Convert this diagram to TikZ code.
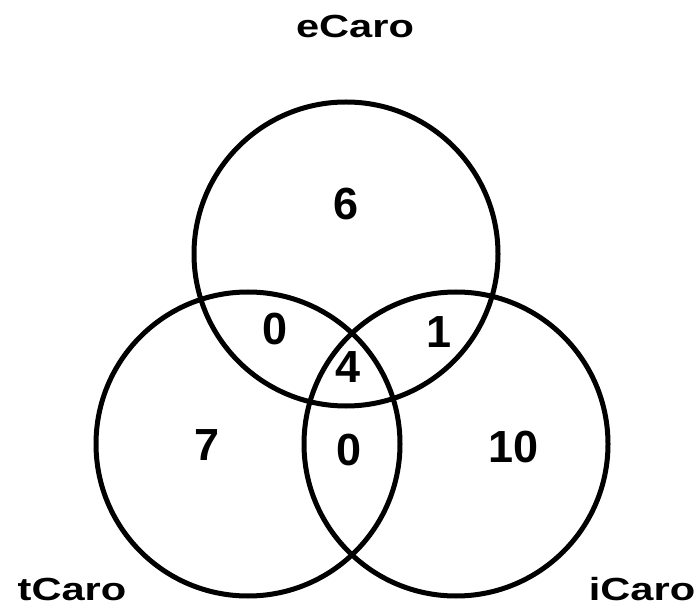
\documentclass[tikz,border=0pt]{standalone}
\usepackage{fontspec}
\setmainfont{Liberation Sans}
\begin{document}
\begin{tikzpicture}[x=1pt,y=-1pt,
  setcircle/.style={draw=black,line width=5pt,circle,minimum size=304pt,inner sep=0pt},
  countlbl/.style={anchor=base,inner sep=0pt,font=\fontsize{45}{45}\selectfont\bfseries},
  setlbl/.style={anchor=base,inner sep=0pt,font=\fontsize{32}{32}\selectfont\bfseries,xscale=1.3}]
\useasboundingbox[fill=white] (0,0) rectangle (696,609);
\node[setcircle] (ecirc) at (346,254) {};
\node[setcircle] (tcirc) at (248,444) {};
\node[setcircle] (icirc) at (456,444) {};
\node[setlbl] (elbl) at (355,38) {eCaro};
\node[setlbl] (tlbl) at (72,600) {tCaro};
\node[setlbl] (ilbl) at (642,600) {iCaro};
\node[countlbl] (n6) at (346,220) {6};
\node[countlbl] (n0a) at (275,345) {0};
\node[countlbl] (n1) at (439,348) {1};
\node[countlbl] (n4) at (348,382) {4};
\node[countlbl] (n7) at (207,460) {7};
\node[countlbl] (n0b) at (349,465) {0};
\node[countlbl] (n10) at (514,462) {10};
\end{tikzpicture}
\end{document}
